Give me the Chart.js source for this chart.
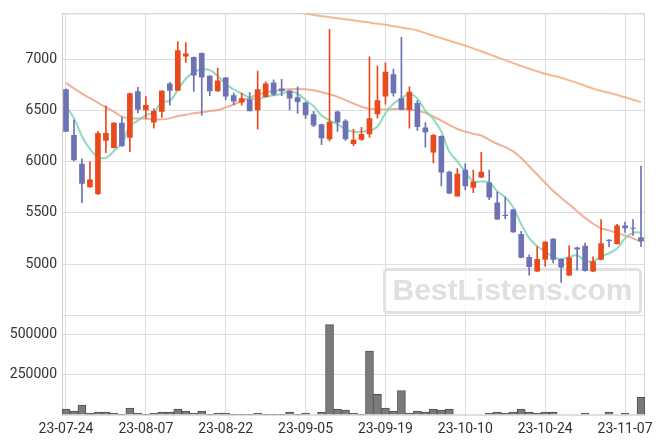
<!DOCTYPE html>
<html><head><meta charset="utf-8">
<script src="https://cdn.jsdelivr.net/npm/chart.js@4"></script>
<style>html,body{margin:0;padding:0;background:#fff}#wrap{width:663px;height:444px;position:relative}</style>
</head><body><div id="wrap"><canvas id="c"></canvas></div>
<script>
const dates = ['23-07-24','23-07-25','23-07-26','23-07-27','23-07-28','23-07-31','23-08-01','23-08-02','23-08-03','23-08-04',
'23-08-07','23-08-08','23-08-09','23-08-10','23-08-11','23-08-14','23-08-16','23-08-17','23-08-18','23-08-21',
'23-08-22','23-08-23','23-08-24','23-08-25','23-08-28','23-08-29','23-08-30','23-08-31','23-09-01','23-09-04',
'23-09-05','23-09-06','23-09-07','23-09-08','23-09-11','23-09-12','23-09-13','23-09-14','23-09-15','23-09-18',
'23-09-19','23-09-20','23-09-21','23-09-22','23-09-25','23-09-26','23-09-27','23-10-04','23-10-05','23-10-06',
'23-10-10','23-10-11','23-10-12','23-10-13','23-10-16','23-10-17','23-10-18','23-10-19','23-10-20','23-10-23',
'23-10-24','23-10-25','23-10-26','23-10-27','23-10-30','23-10-31','23-11-01','23-11-02','23-11-03','23-11-06',
'23-11-07','23-11-08','23-11-09'];
const labelledDates = ['23-07-24','23-08-07','23-08-22','23-09-05','23-09-19','23-10-10','23-10-24','23-11-07'];

const opens = [6710,6260,5980,5755,5690,6210,6140,6380,6240,6690, 6510,6390,6495,6765,6700,7035,7025,7065,6840,6695,
 6825,6650,6585,6610,6510,6640,6775,6715,6695,6630, 6580,6465,6365,6225,6490,6400,6180,6220,6275,6470,
 6645,6855,6620,6515,6575,6335,6095,6250,5900,5665, 5920,5750,5850,5795,5600,5480,5530,5290,5065,4930,
 5045,5245,5045,4890,5160,5175,4930,5045,5235,5200, 5375,5352,5260];
const highs = [6715,6410,6030,6000,6300,6550,6385,6440,6675,6730, 6640,6520,6700,6780,7180,7170,7030,7070,6845,6920,
 6830,6675,6675,6680,6890,6785,6805,6810,6700,6735, 6590,6495,6370,7300,6500,6415,6320,6340,7030,6940,
 6970,6910,7220,6735,6600,6385,6270,6255,5910,5935, 5985,5920,6095,5920,5705,5655,5535,5320,5090,5170,
 5220,5250,5050,5180,5165,5205,5070,5435,5240,5390, 5410,5435,5960];
const lows = [6300,6010,5600,5750,5680,6090,6135,6150,6100,6480, 6425,6330,6435,6555,6700,6975,6690,6455,6650,6690,
 6610,6560,6555,6500,6320,6635,6650,6650,6510,6475, 6425,6345,6170,6205,6300,6210,6160,6210,6240,6430,
 6565,6645,6510,6330,6310,6145,5990,5765,5690,5665, 5725,5700,5845,5630,5435,5445,5310,5060,4890,4925,
 4980,5010,4820,4885,4940,4930,4925,5040,5170,5195, 5310,5280,5170];
const closes = [6300,6020,5790,5825,6280,6280,6380,6160,6670,6515, 6555,6495,6695,6700,7090,7060,6850,6830,6695,6795,
 6645,6595,6620,6500,6710,6765,6665,6695,6625,6590, 6460,6360,6235,6390,6390,6225,6215,6270,6425,6600,
 6880,6675,6515,6685,6345,6295,6260,5900,5695,5880, 5765,5805,5900,5655,5440,5475,5315,5065,4975,5045,
 5215,5045,4970,5060,5145,4935,5025,5200,5230,5375, 5355,5348,5225];
const volumes = [36600,24000,61000,10000,18000,18000,12000,4000,43000,12000, 4000,12000,18000,18000,36000,24000,12000,24000,4000,12000,
 12000,4000,4000,4000,12000,4000,4000,4000,18000,4000, 12000,3000,18000,561000,36600,30500,12000,4000,396000,128000,
 43000,24000,152000,12000,24000,18000,36600,30500,36600,3000, 3000,3000,3000,12000,18000,12000,18000,36000,18000,12000,
 18000,18000,3000,3000,3000,12000,3000,3000,18000,3000, 12000,3000,110000];
const ma5 = [6547,6427,6252,6126,6050,6040,6105,6185,6352,6405, 6458,6485,6586,6598,6705,6815,6880,6906,6902,6840,
 6763,6712,6670,6631,6614,6638,6652,6667,6692,6668, 6607,6546,6454,6407,6367,6320,6295,6298,6305,6347,
 6478,6570,6619,6671,6620,6503,6420,6297,6099,6006, 5900,5809,5809,5801,5713,5655,5557,5390,5254,5175,
 5123,5069,5050,5067,5087,5031,5027,5073,5107,5153, 5250,5305,5310];
const ma20 = [6774,6720,6670,6625,6580,6535,6492,6444,6427,6425, 6424,6420,6417,6427,6450,6462,6476,6487,6498,6508,
 6534,6563,6599,6631,6657,6683,6696,6706,6712,6715, 6712,6702,6683,6663,6638,6605,6573,6541,6521,6515,
 6515,6518,6521,6515,6502,6482,6443,6405,6362,6323, 6298,6275,6259,6217,6178,6146,6104,6039,5958,5877,
 5796,5716,5650,5585,5518,5452,5395,5350,5330,5304, 5279,5252,5220];
const ma60 = [null,null,null,null,null,null,null,null,null,null, null,null,null,null,null,null,null,null,null,null,
 null,null,null,null,null,null,null,null,7490,7470, 7455,7440,7428,7418,7408,7397,7387,7376,7365,7354,
 7343,7330,7317,7304,7288,7262,7236,7212,7188,7163, 7139,7112,7084,7055,7026,6997,6968,6940,6913,6888,
 6864,6845,6825,6800,6774,6746,6718,6697,6677,6655, 6634,6610,6586];
const priceTicks = [5000,5500,6000,6500,7000];
const volumeTicks = [250000,500000];
const PRICE_MIN = 4500, PRICE_MAX = 7455, VOL_MAX = 620000;

const UP = '#e8491d', DOWN = '#6c72b3';
const isUp = i => closes[i] >= opens[i];
const bodies = opens.map((o,i)=>[o, closes[i]]);
const wicks = lows.map((l,i)=>[l, highs[i]]);
const candleColors = opens.map((o,i)=> isUp(i) ? UP : DOWN);

const frame = {
  id:'frame',
  beforeDatasetsDraw(chart){
    const {ctx, chartArea:a} = chart;
    const ys = chart.scales.y;
    ctx.save();
    ctx.strokeStyle = '#d4d4d4'; ctx.lineWidth = 1;
    ctx.beginPath(); ctx.moveTo(a.right-0.5, a.top); ctx.lineTo(a.right-0.5, a.bottom); ctx.stroke();
    ctx.beginPath(); ctx.moveTo(a.left, a.top+0.5); ctx.lineTo(a.right, a.top+0.5); ctx.stroke();
    const w = 259, h = 46;
    const x = a.right - 3 - w, y = ys.bottom - 1 - h;
    ctx.fillStyle = 'rgba(255,255,255,0.6)';
    ctx.strokeStyle = '#e2e2e2'; ctx.lineWidth = 3;
    ctx.beginPath(); ctx.roundRect(x+1.5, y+1.5, w-3, h-3, 3); ctx.fill(); ctx.stroke();
    ctx.fillStyle = '#e0e0e0';
    ctx.font = 'bold 30px "Liberation Sans", Arial, sans-serif';
    ctx.textAlign = 'center'; ctx.textBaseline = 'middle';
    ctx.fillText('BestListens.com', x + w/2, y + h/2 + 1);
    ctx.restore();
  }
};

const tickFont = {family:'Roboto, "Liberation Sans", sans-serif', size:14};
new Chart(document.getElementById('c'), {
  data: {
    labels: dates,
    datasets: [
      {type:'bar', label:'wick', data: wicks, backgroundColor: candleColors, barThickness:1, grouped:false, yAxisID:'y', order:1},
      {type:'bar', label:'body', data: bodies, backgroundColor: candleColors, barThickness:5, grouped:false, yAxisID:'y', order:0},
      {type:'line', label:'MA5', data: ma5, borderColor:'rgba(125,212,182,0.85)', borderWidth:2, pointRadius:0, tension:0.35, yAxisID:'y', order:2},
      {type:'line', label:'MA20', data: ma20, borderColor:'rgba(236,150,118,0.75)', borderWidth:2, pointRadius:0, tension:0.35, yAxisID:'y', order:3},
      {type:'line', label:'MA60', data: ma60, borderColor:'rgba(240,168,118,0.8)', borderWidth:2, pointRadius:0, tension:0.35, yAxisID:'y', order:4},
      {type:'bar', label:'volume', data: volumes, backgroundColor:'#7a7a7a', borderColor:'#505050', borderWidth:1, barPercentage:1, categoryPercentage:1, grouped:false, yAxisID:'yv', order:5}
    ]
  },
  options: {
    responsive:true, maintainAspectRatio:false, animation:false,
    layout:{padding:{top:9, right:18, left:0, bottom:0}},
    plugins:{legend:{display:false}, tooltip:{enabled:false}},
    scales:{
      x:{type:'category', offset:true,
        grid:{offset:false, color:'#dedede', drawTicks:false},
        border:{display:false},
        ticks:{autoSkip:false, maxRotation:0, padding:6, color:'#333', font:tickFont,
          callback:function(v,i){ const l = dates[i]; return labelledDates.includes(l) ? l : null; }},
        afterFit(s){ s.height = 29; }
      },
      y:{type:'linear', position:'left', stack:'p', stackWeight:305, weight:1, min:PRICE_MIN, max:PRICE_MAX,
        grid:{color:'#dedede', drawTicks:false}, border:{color:'#cfcfcf'},
        ticks:{padding:5, color:'#333', font:tickFont, autoSkip:false},
        afterBuildTicks(s){ s.ticks = [PRICE_MIN, ...priceTicks, PRICE_MAX].map(v => ({value:v})); },
        afterTickToLabelConversion(s){ s.ticks.forEach(t => { t.label = priceTicks.includes(t.value) ? String(t.value) : ''; }); },
        afterFit(s){ s.width = 62; }
      },
      yv:{type:'linear', position:'left', stack:'p', stackWeight:101, weight:0, min:0, max:VOL_MAX,
        grid:{color:'#dedede', drawTicks:false}, border:{color:'#cfcfcf'},
        ticks:{padding:5, color:'#333', font:tickFont, autoSkip:false},
        afterBuildTicks(s){ s.ticks = [0, ...volumeTicks, VOL_MAX].map(v => ({value:v})); },
        afterTickToLabelConversion(s){ s.ticks.forEach(t => { t.label = volumeTicks.includes(t.value) ? String(t.value) : ''; }); },
        afterFit(s){ s.width = 62; }
      }
    }
  },
  plugins:[frame]
});
</script></body></html>
